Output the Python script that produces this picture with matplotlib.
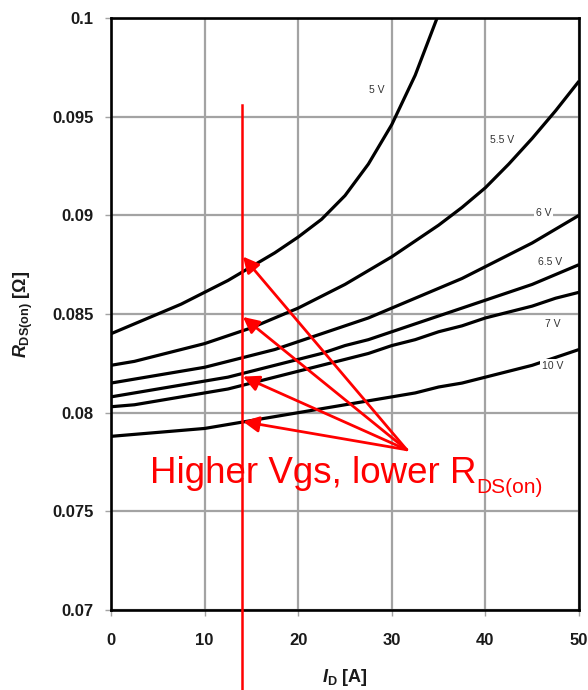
import matplotlib
matplotlib.use('Agg')
import matplotlib.pyplot as plt
from matplotlib import font_manager
from matplotlib.patches import FancyArrowPatch

plt.rcParams['font.family'] = ['Liberation Sans', 'DejaVu Sans']
plt.rcParams['mathtext.fontset'] = 'custom'
plt.rcParams['mathtext.rm'] = 'Liberation Sans:bold'
plt.rcParams['mathtext.it'] = 'Liberation Sans:italic:bold'
plt.rcParams['mathtext.bf'] = 'Liberation Sans:bold'

_names = {f.name for f in font_manager.fontManager.ttflist}
NARROW = 'Liberation Sans Narrow' if 'Liberation Sans Narrow' in _names else 'Liberation Sans'

# ---------------- data ----------------
current = [0, 2.5, 5, 7.5, 10, 12.5, 15, 17.5, 20, 22.5, 25, 27.5, 30, 32.5, 35,
           37.5, 40, 42.5, 45, 47.5, 50]
r_5v = [0.0840, 0.0845, 0.0850, 0.0855, 0.0861, 0.0867, 0.0874, 0.0881, 0.0889,
        0.0898, 0.0910, 0.0926, 0.0946, 0.0971, 0.1002]
r_55v = [0.0824, 0.0826, 0.0829, 0.0832, 0.0835, 0.0839, 0.0843, 0.0848, 0.0853,
         0.0859, 0.0865, 0.0872, 0.0879, 0.0887, 0.0895, 0.0904, 0.0914, 0.0926,
         0.0939, 0.0953, 0.0968]
r_6v = [0.0815, 0.0817, 0.0819, 0.0821, 0.0823, 0.0826, 0.0829, 0.0832, 0.0836,
        0.0840, 0.0844, 0.0848, 0.0853, 0.0858, 0.0863, 0.0868, 0.0874, 0.0880,
        0.0886, 0.0893, 0.0900]
r_65v = [0.0808, 0.0810, 0.0812, 0.0814, 0.0816, 0.0818, 0.0821, 0.0824, 0.0827,
         0.0830, 0.0834, 0.0837, 0.0841, 0.0845, 0.0849, 0.0853, 0.0857, 0.0861,
         0.0865, 0.0870, 0.0875]
r_7v = [0.0803, 0.0804, 0.0806, 0.0808, 0.0810, 0.0812, 0.0815, 0.0818, 0.0821,
        0.0824, 0.0827, 0.0830, 0.0834, 0.0837, 0.0841, 0.0844, 0.0848, 0.0851,
        0.0854, 0.0858, 0.0861]
r_10v = [0.0788, 0.0789, 0.0790, 0.0791, 0.0792, 0.0794, 0.0796, 0.0798, 0.0800,
         0.0802, 0.0804, 0.0806, 0.0808, 0.0810, 0.0813, 0.0815, 0.0818, 0.0821,
         0.0824, 0.0828, 0.0832]
curves = [r_5v, r_55v, r_6v, r_65v, r_7v, r_10v]

curve_labels = ['5 V', '5.5 V', '6 V', '6.5 V', '7 V', '10 V']
label_pos_x = [28.4, 41.8, 46.2, 46.9, 47.2, 47.2]
label_pos_y = [0.09635, 0.09382, 0.09012, 0.08764, 0.08450, 0.08237]

x_ticks = [0, 10, 20, 30, 40, 50]
y_ticks = [0.07, 0.075, 0.08, 0.085, 0.09, 0.095, 0.1]
y_tick_labels = ['0.07', '0.075', '0.08', '0.085', '0.09', '0.095', '0.1']

marker_current = 14
marker_top = 0.0956
marker_bottom = 0.0659
arrow_tail = (31.6, 0.07812)
arrow_tips_y = [0.08791, 0.08485, 0.08183, 0.07955]
arrow_tip_x = 14.1

annot_main = 'Higher Vgs, lower R'
annot_sub = 'DS(on)'

# ---------------- figure ----------------
W, H = 588, 690
fig = plt.figure(figsize=(W / 100, H / 100), dpi=100)
ax = fig.add_axes([111 / W, 1 - 610 / H, 468 / W, 592 / H])

ax.set_xlim(0, 50)
ax.set_ylim(0.07, 0.1)

for vals in curves:
    ax.plot(current[:len(vals)], vals, color='black', lw=2.3,
            solid_capstyle='butt', solid_joinstyle='round', zorder=3)

ax.set_xticks(x_ticks)
ax.set_xticklabels([str(t) for t in x_ticks])
ax.set_yticks(y_ticks)
ax.set_yticklabels(y_tick_labels)
ax.grid(True, color='#a3a3a3', lw=1.6, zorder=1)
ax.set_axisbelow(True)
ax.tick_params(axis='both', direction='out', length=4.5, width=1,
               color='#a3a3a3', labelsize=12, labelcolor='#1a1a1a')
ax.tick_params(axis='x', pad=12)
ax.tick_params(axis='y', pad=8)
for lab in ax.get_xticklabels() + ax.get_yticklabels():
    lab.set_fontweight('bold')
for sp in ax.spines.values():
    sp.set_linewidth(1.9)
    sp.set_color('black')
    sp.set_zorder(5)

for txt, lx, ly in zip(curve_labels, label_pos_x, label_pos_y):
    ax.text(lx, ly, txt, fontsize=7.5, color='#333333', ha='center', va='center',
            zorder=4, bbox=dict(facecolor='white', edgecolor='none', pad=1.5))

# axis labels
fig.text(23 / W, 1 - 314 / H, r'$\mathit{R}_{\mathrm{DS(on)}}$ [Ω]', rotation=90,
         ha='center', va='center', fontsize=13, fontweight='bold', color='#1a1a1a')
fig.text(345 / W, 1 - 678 / H, r'$\mathit{I}_{\mathrm{D}}$ [A]',
         ha='center', va='center', fontsize=13, fontweight='bold', color='#1a1a1a')

# red annotation
ax.plot([marker_current, marker_current], [marker_top, marker_bottom], color='red',
        lw=1.8, clip_on=False, zorder=6)
for ty in arrow_tips_y:
    arr = FancyArrowPatch(arrow_tail, (arrow_tip_x, ty), arrowstyle='-|>',
                          mutation_scale=24, color='red', lw=2.0,
                          shrinkA=0, shrinkB=0, zorder=7)
    ax.add_patch(arr)

ax.text(4.17, 0.07644, annot_main, fontsize=26.5, color='red', ha='left',
        va='baseline', zorder=7)
ax.text(39.0, 0.07594, annot_sub, fontsize=15, color='red', ha='left',
        va='baseline', family=[NARROW, 'Liberation Sans'], zorder=7)

fig.savefig('out.png', dpi=100)
